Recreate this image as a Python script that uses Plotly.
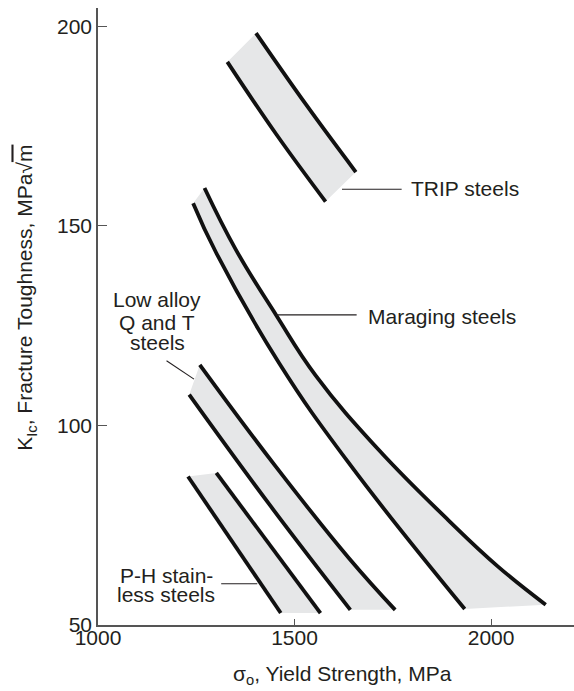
import plotly.graph_objects as go

# ---- data ----
trip_lower_x = [1329, 1454, 1579]
trip_lower_y = [191.1, 172.9, 156.1]
trip_upper_x = [1402, 1530, 1656]
trip_upper_y = [198.3, 180.3, 163.5]

mar_lower_x = [1242, 1300, 1461, 1638, 1933]
mar_lower_y = [155.7, 143.4, 115.6, 90.6, 54.0]
mar_upper_x = [1271, 1351, 1453, 1554, 1714, 1891, 2017, 2139]
mar_upper_y = [159.5, 144.0, 127.7, 112.5, 93.9, 76.3, 64.7, 55.1]

qt_lower_x = [1232, 1436, 1642]
qt_lower_y = [107.7, 80.2, 53.8]
qt_upper_x = [1259, 1450, 1638, 1756]
qt_upper_y = [115.2, 90.0, 66.8, 53.8]

ph_lower_x = [1229, 1465]
ph_lower_y = [87.2, 53.0]
ph_upper_x = [1301, 1566]
ph_upper_y = [88.1, 53.0]

bands = [
    ("TRIP", trip_lower_x, trip_lower_y, trip_upper_x, trip_upper_y),
    ("Maraging", mar_lower_x, mar_lower_y, mar_upper_x, mar_upper_y),
    ("QT", qt_lower_x, qt_lower_y, qt_upper_x, qt_upper_y),
    ("PH", ph_lower_x, ph_lower_y, ph_upper_x, ph_upper_y),
]

x_ticks = [1000, 1500, 2000]
y_ticks = [50, 100, 150, 200]

FONT = "Liberation Sans, Arial, Helvetica, sans-serif"
TXT = "#231f20"
FILL = "#e6e7e8"
LINE = "#111111"
AX = "#555555"
SMOOTH = 1.2

fig = go.Figure()
# shaded bands: fill between the two bounding curves (straight end caps)
for name, lx, ly, ux, uy in bands:
    fig.add_trace(go.Scatter(
        x=lx, y=ly, mode="lines",
        line=dict(width=0, color=FILL, shape="spline", smoothing=SMOOTH),
        hoverinfo="skip", showlegend=False))
    fig.add_trace(go.Scatter(
        x=ux, y=uy, mode="lines", fill="tonexty", fillcolor=FILL,
        line=dict(width=0, color=FILL, shape="spline", smoothing=SMOOTH),
        hoverinfo="skip", showlegend=False))
# bounding curves on top
for name, lx, ly, ux, uy in bands:
    for xs, ys in ((lx, ly), (ux, uy)):
        fig.add_trace(go.Scatter(
            x=xs, y=ys, mode="lines",
            line=dict(color=LINE, width=3.8, shape="spline", smoothing=SMOOTH),
            hoverinfo="skip", showlegend=False))

fig.update_layout(
    width=574, height=691,
    margin=dict(l=98, r=0, t=8, b=66),
    paper_bgcolor="white", plot_bgcolor="white",
    font=dict(family=FONT, size=21, color=TXT),
    showlegend=False,
)
fig.update_xaxes(
    range=[1000, 2211], tickvals=x_ticks, ticktext=[str(v) for v in x_ticks],
    ticks="inside", ticklen=6, tickwidth=1.2, tickcolor=AX,
    showline=True, linecolor=AX, linewidth=1.6, ticklabelstandoff=-7,
    showgrid=False, zeroline=False, tickfont=dict(size=21, color=TXT),
)
fig.update_yaxes(
    range=[50, 204.6], tickvals=y_ticks, ticktext=[str(v) for v in y_ticks],
    ticks="inside", ticklen=9, tickwidth=1.2, tickcolor=AX,
    showline=True, linecolor=AX, linewidth=1.6,
    showgrid=False, zeroline=False, tickfont=dict(size=21, color=TXT),
)

ann = []
def add_text(text, x, y, xanchor="left"):
    ann.append(dict(text=text, x=x, y=y, xref="x", yref="y", showarrow=False,
                    xanchor=xanchor, yanchor="middle",
                    font=dict(size=21, color=TXT, family=FONT)))

add_text("TRIP steels", 1791, 159.3)
add_text("Maraging steels", 1681, 127.3)
add_text("Low alloy", 1151, 131.5, "center")
add_text("Q and T", 1151, 125.8, "center")
add_text("steels", 1151, 120.7, "center")
add_text("P-H stain-", 1174, 62.4, "center")
add_text("less steels", 1174, 57.6, "center")

ann.append(dict(text="σ<sub>o</sub>, Yield Strength, MPa", x=0.5147, y=-0.0805,
                xref="paper", yref="paper", showarrow=False, xanchor="center",
                yanchor="middle", font=dict(size=21, color=TXT, family=FONT)))
ann.append(dict(text="K<sub>Ic</sub>, Fracture Toughness, MPa√<span style='text-decoration:overline'>m</span>",
                x=-0.151, y=0.5305, xref="paper", yref="paper", showarrow=False,
                textangle=-90, xanchor="center", yanchor="middle",
                font=dict(size=21, color=TXT, family=FONT)))
fig.update_layout(annotations=ann)

leaders = [
    (1620.8, 159.2, 1772.5, 159.2),
    (1452.5, 127.7, 1658.0, 127.7),
    (1174.4, 116.2, 1244.2, 111.6),
    (1313.4, 60.35, 1405.2, 60.35),
]
for x0, y0, x1, y1 in leaders:
    fig.add_shape(type="line", x0=x0, y0=y0, x1=x1, y1=y1, xref="x", yref="y",
                  line=dict(color=TXT, width=1.1))

fig.write_html("out.html", config={"displayModeBar": False},
               post_script="document.body.style.margin='0px';")
